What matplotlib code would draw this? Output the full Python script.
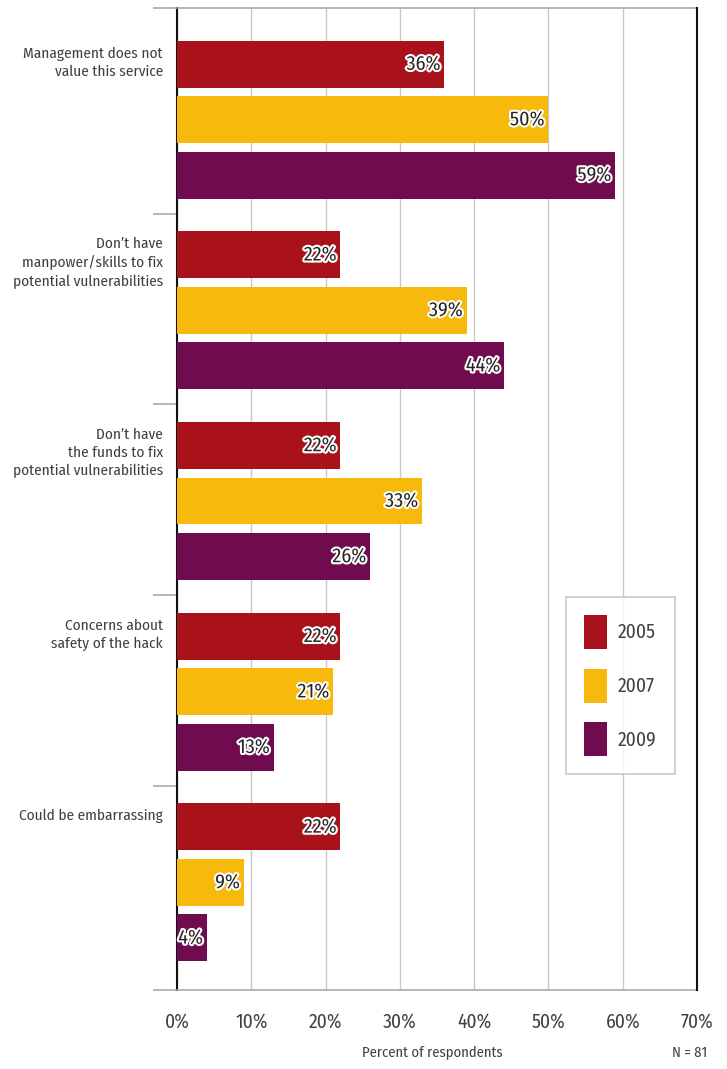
import numpy as np
import matplotlib
matplotlib.use('Agg')
import matplotlib.pyplot as plt
import matplotlib.patheffects as pe
from matplotlib.patches import Patch

plt.rcParams['font.family'] = ['Fira Sans Condensed', 'DejaVu Sans']

reasons = ['Management does not\nvalue this service',
           'Don\u2019t have\nmanpower/skills to fix\npotential vulnerabilities',
           'Don\u2019t have\nthe funds to fix\npotential vulnerabilities',
           'Concerns about\nsafety of the hack',
           'Could be embarrassing']
years = ['2005', '2007', '2009']
pct_2005 = [36, 22, 22, 22, 22]
pct_2007 = [50, 39, 33, 21, 9]
pct_2009 = [59, 44, 26, 13, 4]
colors = ['#a9121b', '#f7b90b', '#700b4f']

series = [pct_2005, pct_2007, pct_2009]
n = len(reasons)
base = np.arange(n)
step = 0.291
h = 0.246
txt = '#404040'

fig = plt.figure(figsize=(7.27, 10.69), dpi=100)
ax = fig.add_axes([177/727, 1 - 990/1069, 520/727, 982/1069])

for k, vals in enumerate(series):
    y = base + k * step
    ax.barh(y, vals, height=h, color=colors[k], zorder=3)
    for yy, v in zip(y, vals):
        ax.text(v - 0.5, yy, f'{v}%', ha='right', va='center', fontsize=14.5,
                color='#262626', zorder=4,
                path_effects=[pe.withStroke(linewidth=3, foreground='white')])

ax.set_xlim(0, 70)
ax.set_ylim(n - 1 + 0.855, -0.294)

ax.set_xticks(np.arange(0, 71, 10))
ax.set_xticklabels([f'{t}%' for t in range(0, 71, 10)], fontsize=14, color=txt)
ax.tick_params(axis='x', length=0, pad=16)
ax.grid(axis='x', color='#c8c8c8', linewidth=1, zorder=0)

# group separators drawn as outward ticks on the left
sep = [-0.294] + list(base[1:] - 0.215) + [n - 1 + 0.855]
ax.set_yticks(sep)
ax.set_yticklabels([])
ax.tick_params(axis='y', length=17, color='#aaaaaa', width=1.2)

for i, lab in enumerate(reasons):
    ax.text(-1.9, base[i] - h / 2 + 0.03, lab, ha='right', va='top',
            fontsize=11, color=txt, linespacing=1.35)

for s in ['left', 'right']:
    ax.spines[s].set_color('#111111')
    ax.spines[s].set_linewidth(1.5)
for s in ['top', 'bottom']:
    ax.spines[s].set_color('#aaaaaa')
    ax.spines[s].set_linewidth(1.2)
ax.spines['right'].set_zorder(5)

handles = [Patch(facecolor=c, edgecolor='none') for c in colors]
leg = ax.legend(handles, years, loc='upper left', bbox_to_anchor=(389/520, 1 - 589/982),
                frameon=True, fancybox=False, edgecolor='#bbbbbb', fontsize=14,
                handlelength=1.15, handleheight=2.3, labelspacing=1.0,
                borderpad=0.95, handletextpad=0.55, borderaxespad=0)
leg.get_frame().set_linewidth(1.2)
leg.set_zorder(6)
for t in leg.get_texts():
    t.set_color(txt)

fig.text(432/727, 1 - 1053/1069, 'Percent of respondents', ha='center', va='center',
         fontsize=10.5, color=txt)
fig.text(690/727, 1 - 1053/1069, 'N = 81', ha='center', va='center',
         fontsize=10.5, color=txt)

fig.savefig('out.png', dpi=100)
